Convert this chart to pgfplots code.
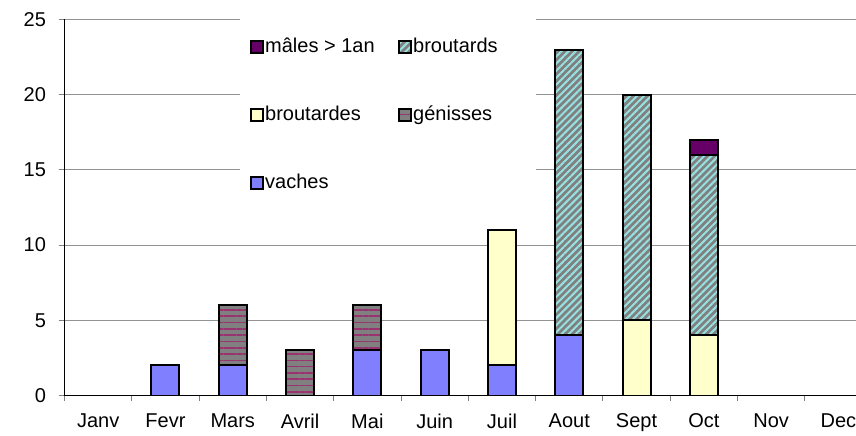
\documentclass[border=0pt]{standalone}
\usepackage{fontspec}
\setmainfont{Liberation Sans}
\usepackage{pgfplots}
\pgfplotsset{compat=1.18}
\usetikzlibrary{patterns.meta}
\definecolor{vach}{RGB}{128,128,255}
\definecolor{btde}{RGB}{255,255,204}
\definecolor{male}{RGB}{102,0,102}
\definecolor{genstripe}{RGB}{153,51,112}
\definecolor{btdstripe}{RGB}{150,225,225}
\definecolor{basegray}{RGB}{128,128,128}
\pgfplotsset{
  sVaches/.style={fill=vach, draw=black, line width=2pt},
  sGenisses/.style={draw=black, line width=2pt, preaction={fill=basegray}, pattern={Lines[angle=0,distance=6.3pt,line width=1.6pt]}, pattern color=genstripe},
  sBroutardes/.style={fill=btde, draw=black, line width=2pt},
  sBroutards/.style={draw=black, line width=2pt, preaction={fill=basegray}, pattern={Lines[angle=45,distance=5pt,line width=2pt]}, pattern color=btdstripe},
  sMales/.style={fill=male, draw=black, line width=2pt},
}
\begin{document}
\begin{tikzpicture}[font=\fontsize{20}{24}\selectfont]
\useasboundingbox (0pt,0pt) rectangle (856pt,436pt);
\clip (0pt,0pt) rectangle (856pt,436pt);
\begin{axis}[
  at={(64.5pt,40.5pt)}, anchor=south west,
  scale only axis, width=807.6pt, height=376pt,
  xmin=-0.5, xmax=11.5, ymin=0, ymax=25,
  ybar stacked, bar width=28pt,
  axis lines*=left,
  axis line style={black, line width=1.5pt},
  xtick={0,...,11},
  xticklabels={Janv,Fevr,Mars,Avril,Mai,Juin,Juil,Aout,Sept,Oct,Nov,Dec},
  major x tick style={draw=none},
  minor xtick={-0.5,0.5,...,11.5},
  minor x tick style={gray, line width=1pt},
  ytick={0,5,...,25},
  ytick style={gray, line width=1pt},
  tick align=outside,
  major tick length=6pt, minor tick length=5pt,
  ymajorgrids, grid style={gray!85, line width=1pt},
  /pgf/number format/assume math mode=true,
  xticklabel style={yshift=-11pt, inner ysep=1pt},
  yticklabel style={xshift=-9pt},
  legend columns=2,
  legend cell align=left,
  legend image code/.code={\draw[#1, line width=1.5pt] (0pt,-6pt) rectangle (12pt,6pt);},
  legend style={at={(0.2173,1.0226)}, anchor=north west, draw=none, fill=white,
    inner xsep=10pt, inner ysep=25pt, row sep=46pt,
    nodes={inner xsep=1.5pt, inner ysep=1pt, text height=15pt, text depth=5pt},
    /tikz/column 2/.style={column sep=22pt},
    /tikz/column 4/.style={nodes={text width=111pt}}},
]
\addplot[sVaches, forget plot] coordinates {(0,0) (1,2) (2,2) (3,0) (4,3) (5,3) (6,2) (7,4) (8,0) (9,0) (10,0) (11,0)};
\addplot[sGenisses, forget plot] coordinates {(0,0) (1,0) (2,4) (3,3) (4,3) (5,0) (6,0) (7,0) (8,0) (9,0) (10,0) (11,0)};
\addplot[sBroutardes, forget plot] coordinates {(0,0) (1,0) (2,0) (3,0) (4,0) (5,0) (6,9) (7,0) (8,5) (9,4) (10,0) (11,0)};
\addplot[sBroutards, forget plot] coordinates {(0,0) (1,0) (2,0) (3,0) (4,0) (5,0) (6,0) (7,19) (8,15) (9,12) (10,0) (11,0)};
\addplot[sMales, forget plot] coordinates {(0,0) (1,0) (2,0) (3,0) (4,0) (5,0) (6,0) (7,0) (8,0) (9,1) (10,0) (11,0)};
\addlegendimage{sMales}\addlegendentry{mâles > 1an}
\addlegendimage{sBroutards}\addlegendentry{broutards}
\addlegendimage{sBroutardes}\addlegendentry{broutardes}
\addlegendimage{sGenisses}\addlegendentry{génisses}
\addlegendimage{sVaches}\addlegendentry{vaches}
\end{axis}
\end{tikzpicture}
\end{document}
